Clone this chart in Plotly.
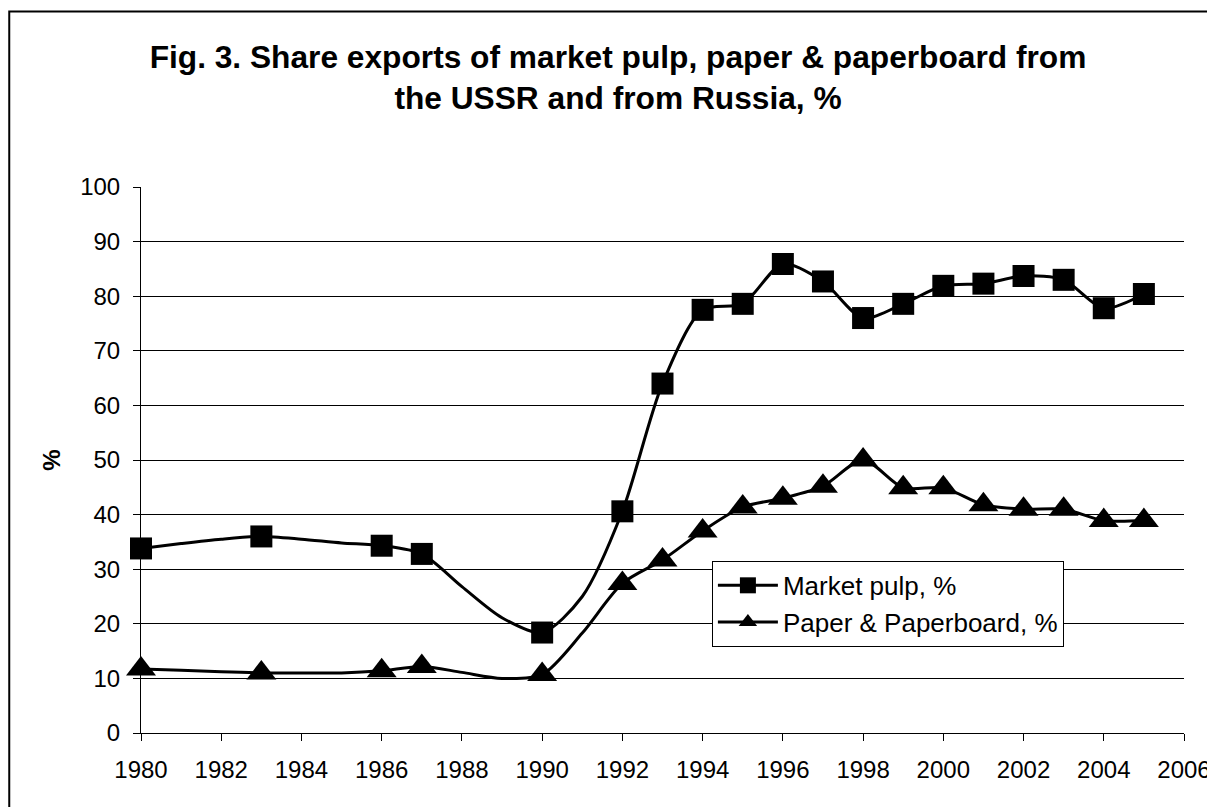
import plotly.graph_objects as go

years = list(range(1980, 2006))
market_pulp = [33.8, 34.7, 35.5, 36.0, 35.5, 34.8, 34.3, 32.8, 26.8, 21.1,
               18.4, 25.0, 40.6, 64.0, 77.5, 78.6, 85.9, 82.7, 76.0, 78.6,
               81.9, 82.3, 83.7, 83.0, 77.8, 80.4]
paper_board = [11.7, 11.5, 11.2, 11.0, 11.0, 11.0, 11.4, 12.2, 11.1, 10.0,
               10.7, 18.3, 27.4, 31.7, 37.0, 41.4, 43.0, 45.2, 50.0, 44.9,
               44.9, 41.8, 41.0, 41.0, 38.9, 38.9]
marker_years = [1980, 1983, 1986, 1987, 1990] + list(range(1992, 2006))
x_ticks = list(range(1980, 2007, 2))
y_ticks = list(range(0, 101, 10))

FONT = "Liberation Sans, Arial, sans-serif"

def sizes(sz):
    return [sz if y in marker_years else 0 for y in years]

fig = go.Figure()
fig.add_trace(go.Scatter(
    x=years, y=market_pulp, name="Market pulp, %",
    mode="lines+markers", cliponaxis=False,
    line=dict(color="black", width=3, shape="spline", smoothing=0.8),
    marker=dict(symbol="square", size=sizes(22), color="black", opacity=1,
                line=dict(width=0)),
))
fig.add_trace(go.Scatter(
    x=years, y=paper_board, name="Paper & Paperboard, %",
    mode="lines+markers", cliponaxis=False,
    line=dict(color="black", width=3, shape="spline", smoothing=0.8),
    marker=dict(symbol="triangle-up", size=sizes(26), color="black", opacity=1,
                line=dict(width=0)),
))

# page is offset by the 8px body margin; geometry below is in figure px
OFF = 8
W, H = 1215, 807
L = 141 - OFF
T = 186.6 - OFF
pw = 1045
ph = 546.7
R = W - L - pw
B = H - T - ph

def px_x(px):  # screenshot px -> paper x
    return (px - OFF - L) / pw

def px_y(py):  # screenshot px -> paper y
    return (T + ph - (py - OFF)) / ph

fig.update_layout(
    width=W, height=H,
    margin=dict(l=L, r=R, t=T, b=B),
    paper_bgcolor="white", plot_bgcolor="white",
    font=dict(family=FONT, size=24, color="black"),
    title=dict(
        text="<b>Fig. 3. Share exports of market pulp, paper & paperboard from<br>the USSR and from Russia, %</b>",
        x=(618 - OFF) / W, xanchor="center", xref="container",
        y=1 - 60 / H, yanchor="top", yref="container",
        font=dict(family=FONT, size=31.7, color="black"),
    ),
    showlegend=True,
    legend=dict(
        x=px_x(713), y=px_y(561), xanchor="left", yanchor="top",
        bgcolor="white", bordercolor="black", borderwidth=1,
        font=dict(family=FONT, size=26, color="black"),
        itemwidth=60,
    ),
    shapes=[dict(
        type="rect", xref="paper", yref="paper",
        x0=px_x(9), x1=px_x(1240),
        y0=px_y(840), y1=px_y(11),
        line=dict(color="black", width=2), fillcolor="rgba(0,0,0,0)", layer="above",
    )],
)
fig.update_xaxes(
    range=[1980, 2006], tickmode="array", tickvals=x_ticks,
    ticktext=[str(t) for t in x_ticks],
    showgrid=False, zeroline=False,
    showline=True, linecolor="black", linewidth=1,
    ticks="outside", ticklen=7, tickcolor="black", tickwidth=1,
    tickfont=dict(family=FONT, size=24, color="black"),
    ticklabelstandoff=8,
)
fig.update_yaxes(
    range=[0, 100], tickmode="array", tickvals=y_ticks,
    showgrid=True, gridcolor="black", gridwidth=1, zeroline=False,
    showline=True, linecolor="black", linewidth=1,
    ticks="outside", ticklen=7, tickcolor="black", tickwidth=1,
    tickfont=dict(family=FONT, size=24, color="black"),
    ticklabelstandoff=8,
    title=dict(text="<b>%</b>", font=dict(family=FONT, size=24, color="black"), standoff=12),
)

fig.write_html("out.html")
